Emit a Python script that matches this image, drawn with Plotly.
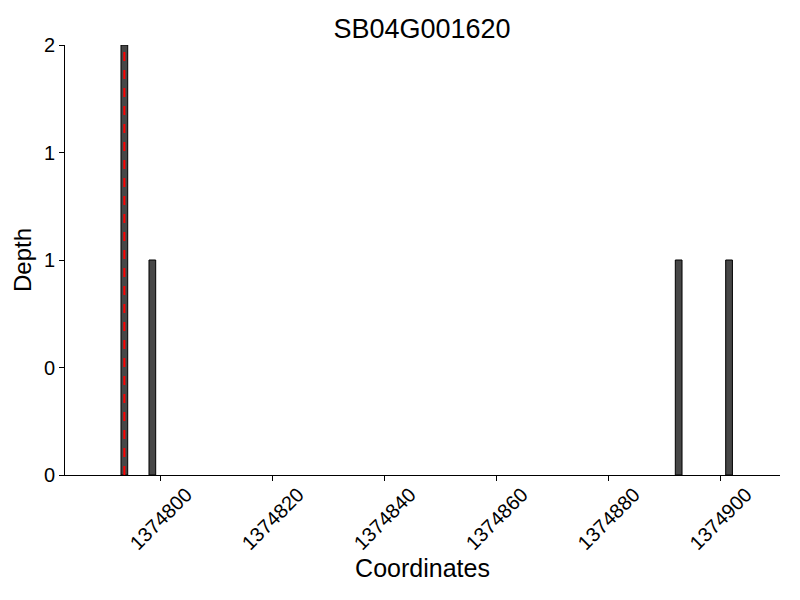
import plotly.graph_objects as go

positions = [1374793, 1374798, 1374892, 1374901]
depths = [2, 1, 1, 1]
marker_pos = [1374793]
title = "SB04G001620"
y_tickvals = [0, 0.5, 1, 1.5, 2]
y_ticktext = ["0", "0", "1", "1", "2"]
x_tickvals = [1374800, 1374820, 1374840, 1374860, 1374880, 1374900]
x_ticktext = [str(v) for v in x_tickvals]

fig = go.Figure()
fig.add_trace(go.Bar(
    x=positions, y=depths, offset=0, width=1.2,
    marker=dict(color="#474747", line=dict(color="black", width=1)),
))
for p in marker_pos:
    fig.add_shape(type="line", x0=p + 0.6, x1=p + 0.6, y0=0, y1=2,
                  xref="x", yref="y", line=dict(color="red", width=2, dash="dash"))

font = "Liberation Sans, Arial, sans-serif"
fig.update_layout(
    width=800, height=600,
    margin=dict(l=57, r=28, t=37, b=133),
    paper_bgcolor="white", plot_bgcolor="white",
    showlegend=False,
    font=dict(family=font, color="black"),
    title=dict(text=title, x=0.5175, xanchor="center", y=0.965, yanchor="middle",
               font=dict(size=27, family=font)),
)
fig.update_xaxes(
    range=[1374783, 1374910.7], tickvals=x_tickvals, ticktext=x_ticktext, tickangle=-45,
    showline=True, linecolor="black", linewidth=1, ticks="outside", ticklen=5,
    tickcolor="black", showgrid=False, zeroline=False, automargin=False,
    ticklabelshift=26, ticklabelstandoff=-6,
    tickfont=dict(size=20), title=dict(text="Coordinates", font=dict(size=25), standoff=0),
)
fig.update_yaxes(
    range=[0, 2], tickvals=y_tickvals, ticktext=y_ticktext,
    showline=True, linecolor="black", linewidth=1, ticks="outside", ticklen=5,
    tickcolor="black", showgrid=False, zeroline=False, automargin=False,
    tickfont=dict(size=20), title=dict(text="Depth", font=dict(size=24), standoff=5),
)
fig.write_html("out.html")
